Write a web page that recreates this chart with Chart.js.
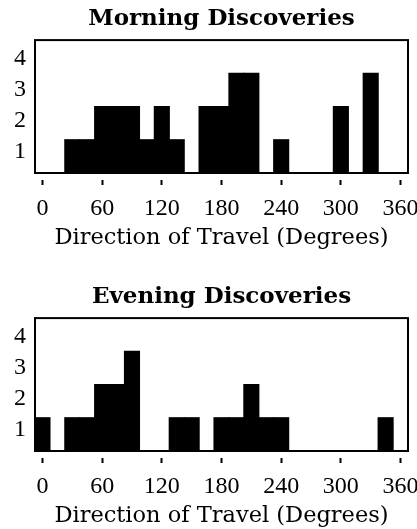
<!DOCTYPE html>
<html>
<head>
<meta charset="utf-8">
<script src="https://cdn.jsdelivr.net/npm/chart.js@4.4.1/dist/chart.umd.min.js"></script>
<style>
  html, body { margin: 0; padding: 0; background: #fff; }
  #wrap { position: relative; width: 417px; height: 529px; overflow: hidden; }
  canvas { position: absolute; left: 0; }
  #morning { top: 0; }
  #evening { top: 278px; }
</style>
</head>
<body>
<div id="wrap">
  <canvas id="morning" width="417" height="260"></canvas>
  <canvas id="evening" width="417" height="260"></canvas>
</div>
<script>
// bin centres in degrees (15 degree bins)
const binCenters = [0,15,30,45,60,75,90,105,120,135,150,165,180,195,210,225,240,255,270,285,300,315,330,345,360];
// counts
const morningCounts = [0,0,1,1,2,2,2,1,2,1,0,2,2,3,3,0,1,0,0,0,2,0,3,0,0];
const eveningCounts = [1,0,1,1,2,2,3,0,0,1,1,0,1,1,2,1,1,0,0,0,0,0,0,1,0];
const xTicks = [0,60,120,180,240,300,360];
// y labels sit a bit below each whole count in the original
const yTickPos = [0.63, 1.57, 2.52, 3.45];
const yTickLabels = ['1', '2', '3', '4'];

const serif = "'Liberation Serif', 'DejaVu Serif', serif";
const wideSerif = "'DejaVu Serif', 'Liberation Serif', serif";

// draws the box round the plot area
const framePlugin = {
  id: 'frame',
  afterDraw(chart) {
    const a = chart.chartArea;
    const c = chart.ctx;
    c.save();
    c.strokeStyle = '#000';
    c.lineWidth = 2;
    c.strokeRect(a.left, a.top, a.right - a.left, a.bottom - a.top);
    c.restore();
  }
};

function makeHist(id, title, counts) {
  const pts = binCenters.map((d, i) => ({ x: d, y: counts[i] }));
  return new Chart(document.getElementById(id), {
    type: 'bar',
    data: {
      datasets: [{
        data: pts,
        backgroundColor: '#000',
        borderWidth: 0,
        inflateAmount: 0.6, // hide seams between touching bars
        barPercentage: 1,
        categoryPercentage: 1
      }]
    },
    options: {
      responsive: false,
      animation: false,
      layout: { padding: { left: 0, right: 9, top: 0, bottom: 0 } },
      plugins: {
        legend: { display: false },
        tooltip: { enabled: false },
        title: {
          display: true,
          fullSize: false,
          text: title,
          color: '#000',
          font: { family: wideSerif, size: 23, weight: 'bold', lineHeight: 1.2 },
          padding: { top: 5.5, bottom: 7 }
        }
      },
      scales: {
        x: {
          type: 'linear',
          min: -7.5,
          max: 367.5,
          offset: false,
          afterBuildTicks: s => { s.ticks = xTicks.map(v => ({ value: v })); },
          afterFit: s => { s.paddingLeft = 0; s.paddingRight = 0; s.height = 87; },
          border: { display: false },
          grid: {
            display: true,
            offset: false,
            drawOnChartArea: false,
            drawTicks: true,
            tickLength: 12,
            tickWidth: 2,
            tickColor: '#000',
            tickBorderDash: [0, 7, 5, 40]
          },
          ticks: {
            color: '#000',
            font: { family: serif, size: 24 },
            padding: 9,
            maxRotation: 0,
            autoSkip: false
          },
          title: {
            display: true,
            text: 'Direction of Travel (Degrees)',
            color: '#000',
            font: { family: wideSerif, size: 22.5 },
            padding: { top: 0, bottom: 8 }
          }
        },
        y: {
          min: 0,
          max: 4,
          afterBuildTicks: s => { s.ticks = yTickPos.map(v => ({ value: v })); },
          afterFit: s => { s.width = 35; },
          border: { display: false },
          grid: { display: false, drawTicks: false },
          ticks: {
            color: '#000',
            font: { family: serif, size: 24 },
            padding: 9,
            callback: (v, i) => yTickLabels[i]
          }
        }
      }
    },
    plugins: [framePlugin]
  });
}

makeHist('morning', 'Morning Discoveries', morningCounts);
makeHist('evening', 'Evening Discoveries', eveningCounts);
</script>
</body>
</html>
